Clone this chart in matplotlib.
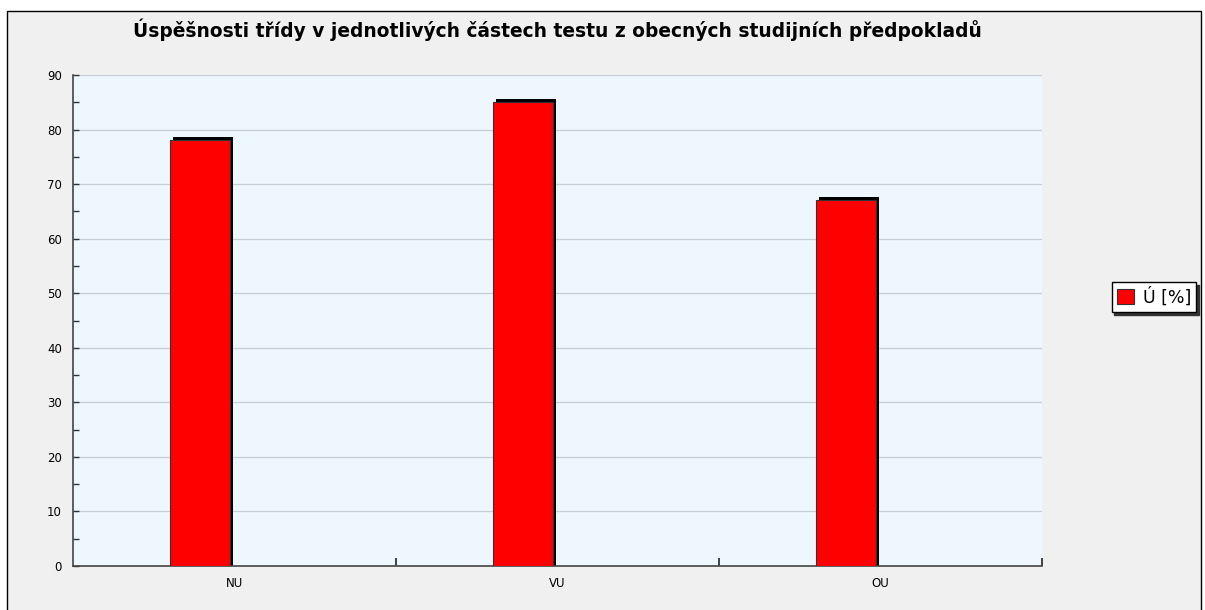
import matplotlib
matplotlib.use("Agg")
import matplotlib.pyplot as plt
from matplotlib.patches import Rectangle

title = "Úspěšnosti třídy v jednotlivých částech testu z obecných studijních předpokladů"
categories = ["NU", "VU", "OU"]
values = [78, 85, 67]
series_name = "Ú [%]"

fig = plt.figure(figsize=(12.05, 6.1), dpi=100)
fig.patch.set_facecolor("white")

# outer grey panel with thin black frame
W, H = 1205, 610
fig.patches.append(Rectangle((7 / W, -0.01), (1201 - 7) / W, (610 - 11) / H + 0.01,
                             transform=fig.transFigure, facecolor="#f0f0f0",
                             edgecolor="black", linewidth=1.0, zorder=-5))

ax = fig.add_axes([73 / W, 1 - 566 / H, (1042 - 73) / W, (566 - 75) / H])
ax.set_facecolor("#eef6fe")

x = list(range(len(categories)))
bw = 0.185
off = -0.2
px = 1.0 / 323  # one pixel in x data units
py = 90.0 / 491  # one pixel in y data units

# shadow then bar
ax.bar([i + off + 3 * px for i in x], [v + 3 * py for v in values], width=bw,
       align="edge", color="black", linewidth=0, zorder=2)
ax.bar([i + off for i in x], values, width=bw, align="edge", color="#ff0000",
       edgecolor="#333333", linewidth=0.8, zorder=3, label=series_name)

ax.set_xlim(-0.5, len(categories) - 0.5)
ax.set_ylim(0, 90)
ax.set_yticks(range(0, 91, 10))
ax.set_yticks(range(5, 90, 10), minor=True)
ax.set_xticks(x)
ax.set_xticklabels(categories)
ax.set_xticks([i + 0.5 for i in x], minor=True)

ax.tick_params(axis="y", which="both", direction="in", length=4, width=1,
               color="#333333", labelsize=8.5, pad=8)
ax.tick_params(axis="x", which="major", length=0, labelsize=8.5, pad=8)
ax.tick_params(axis="x", which="minor", direction="in", length=6, width=1.2,
               color="#222222")

ax.grid(axis="y", color="#c8ced6", linewidth=0.9, zorder=1)
ax.set_axisbelow(True)
for s in ["top", "right"]:
    ax.spines[s].set_visible(False)
for s in ["left", "bottom"]:
    ax.spines[s].set_color("#444444")
    ax.spines[s].set_linewidth(1.2)

fig.text(557 / W, 1 - 30 / H, title, ha="center", va="center",
         fontsize=13.4, fontweight="bold", color="black")

leg = fig.legend(loc="center", bbox_to_anchor=(1154 / W, 1 - 297 / H),
                 frameon=True, fancybox=False,
                 shadow={"ox": 2, "oy": -2, "color": "#333333", "alpha": 1.0},
                 fontsize=12.5, handlelength=1.0, handleheight=0.9,
                 handletextpad=0.5, borderpad=0.3, borderaxespad=0)
leg.get_frame().set_edgecolor("black")
leg.get_frame().set_facecolor("white")
leg.get_frame().set_linewidth(1.0)

fig.savefig("out.png", dpi=100)
